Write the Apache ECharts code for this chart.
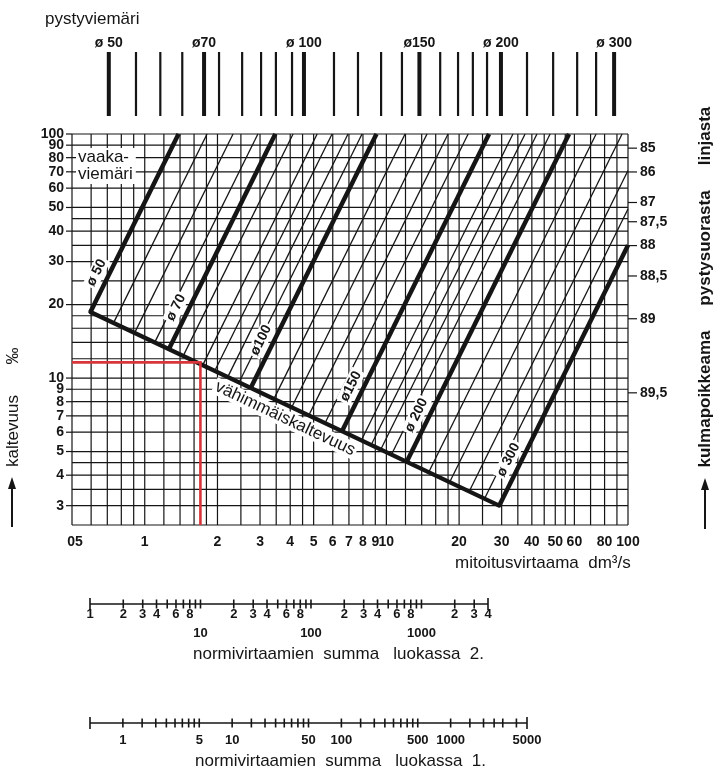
<!DOCTYPE html>
<html><head><meta charset="utf-8">
<script src="https://cdn.jsdelivr.net/npm/echarts@6/dist/echarts.min.js"></script>
<style>html,body{margin:0;padding:0;background:#fff}#c{width:715px;height:777px}</style>
</head><body><div id="c"></div>
<script>
// ---------------- data ----------------
const gridX = [0.5,0.6,0.7,0.8,0.9,1,1.2,1.4,1.6,1.8,2,2.5,3,3.5,4,4.5,5,6,7,8,9,10,12,14,16,18,20,25,30,35,40,45,50,55,60,70,80,90,100];
const gridY = [2.5,3,3.5,4,4.5,5,6,7,8,9,10,12,14,16,18,20,25,30,35,40,45,50,60,70,80,90,100];
const xLabelValues = [0.5,1,2,3,4,5,6,7,8,9,10,20,30,40,50,60,80,100];
const xLabelText = ['05','1','2','3','4','5','6','7','8','9','10','20','30','40','50','60','80','100'];
const yLabelValues = [3,4,5,6,7,8,9,10,20,30,40,50,60,70,80,90,100];
const angleValues = [87.5,69.9,52.4,43.7,34.9,26.2,17.5,8.7];
const angleText = ['85','86','87','87,5','88','88,5','89','89,5'];

const stackFlow = [0.71,0.92,1.16,1.43,1.76,2.03,2.53,3.03,3.49,4.07,4.56,6.07,7.63,9.51,11.6,13.7,16.7,19.8,22.8,26.1,29.8,38.2,49.0,61.6,73.8,87.6];
const stackDiameterIndex = [0,4,10,15,20,25];
const diameterText = ['ø 50','ø 70','ø100','ø150','ø 200','ø 300'];
const topDiameterText = ['ø 50','ø70','ø 100','ø150','ø 200','ø 300'];

const drainStartQ = [0.596,0.743,0.908,1.100,1.259,1.443,1.738,1.950,2.207,2.458,2.748,3.425,4.058,4.774,5.577,6.551,7.879,8.65,9.48,10.50,12.14,14.97,18.29,22.01,25.50,29.30];
const drainStartS = [18.65,16.83,15.32,14.0,13.15,12.33,11.30,10.71,10.11,9.61,9.12,8.22,7.59,7.03,6.54,6.06,5.56,5.32,5.10,4.86,4.54,4.11,3.75,3.43,3.21,3.00];
const drainEndQ = [1.38,1.811,2.32,2.94,3.47,4.11,5.17,5.96,6.94,7.93,9.1,11.95,14.73,18.0,21.8,26.6,33.4,37.5,42.0,47.6,57.0,73.8,94.5,100,100,100];
const drainEndS = [100,100,100,100,100,100,100,100,100,100,100,100,100,100,100,100,100,100,100,100,100,100,100,70.9,49.3,35.0];
const drainDiameterIndex = [0,4,10,15,20,25];
const drainLabelS = [25.7,18.5,13.6,8.8,6.7,4.4];

const minSlopeQ = [0.596,29.30];
const minSlopeS = [18.65,3.00];
const exampleQ = 1.7;
const exampleS = 11.6;

const class2Ticks = [1,2,3,4,5,6,7,8,9,10,20,30,40,50,60,70,80,90,100,200,300,400,500,600,700,800,900,1000,2000,3000,4000];
const class2LabelValues = [1,2,3,4,6,8,10,20,30,40,60,80,100,200,300,400,600,800,1000,2000,3000,4000];
const class2LabelText = ['1','2','3','4','6','8','10','2','3','4','6','8','100','2','3','4','6','8','1000','2','3','4'];
const class1Ticks = [0.5,1,1.5,2,2.5,3,3.5,4,4.5,5,10,15,20,25,30,35,40,45,50,100,150,200,250,300,350,400,450,500,1000,1500,2000,2500,3000,4000,5000];
const class1LabelValues = [1,5,10,50,100,500,1000,5000];
const class1LabelText = ['1','5','10','50','100','500','1000','5000'];

// ---------------- rendering ----------------
const INK = '#151515';
const FONT = '"Liberation Sans", Arial, sans-serif';
const X_MIN = gridX[0], X_MAX = gridX[gridX.length-1];
const Y_MIN = gridY[0], Y_MAX = gridY[gridY.length-1];

function seg(a, b, stroke, w){
  return {type:'line', shape:{x1:a[0],y1:a[1],x2:b[0],y2:b[1]}, style:{stroke:stroke, lineWidth:w, lineCap:'butt'}};
}
function txt(x, y, s, o){
  o = o || {};
  return {type:'text', x:x, y:y, rotation:o.rot||0, style:{
    text:s, fill:o.fill||INK, fontSize:o.size||14, fontWeight:o.weight||'bold', fontFamily:FONT,
    align:o.align||'center', verticalAlign:o.valign||'middle',
    backgroundColor:o.bg||null, padding:o.pad||0, lineHeight:o.lh||undefined }};
}
function g(i){ return {xAxisIndex:i, yAxisIndex:i, type:'custom', silent:true, animation:false}; }

const drainRows = drainStartQ.map((q,i)=>[q, drainStartS[i], drainEndQ[i], drainEndS[i], drainDiameterIndex.indexOf(i)]);

const series = [
  // vertical grid lines
  Object.assign(g(0), {z:1, data:gridX.map(v=>[v,Y_MIN]), renderItem:(p,api)=>seg(api.coord([api.value(0),Y_MIN]), api.coord([api.value(0),Y_MAX]), INK, 1.2)}),
  // horizontal grid lines
  Object.assign(g(0), {z:1, data:gridY.map(v=>[X_MIN,v]), renderItem:(p,api)=>seg(api.coord([X_MIN,api.value(1)]), api.coord([X_MAX,api.value(1)]), INK, 1.2)}),
  // thin drain lines
  Object.assign(g(0), {z:2, encode:{x:[0,2],y:[1,3]}, data:drainRows.filter(r=>r[4]<0), renderItem:(p,api)=>seg(api.coord([api.value(0),api.value(1)]), api.coord([api.value(2),api.value(3)]), INK, 1.3)}),
  // diameter labels along thick lines
  Object.assign(g(0), {z:3, encode:{x:[0,2],y:[1,3]}, data:drainRows.filter(r=>r[4]>=0).map(r=>[r[0],r[1],r[2],r[3],r[4]]), renderItem:(p,api)=>{
    const a = api.coord([api.value(0),api.value(1)]), b = api.coord([api.value(2),api.value(3)]);
    const j = api.value(4);
    const yy = api.coord([1, drainLabelS[j]])[1];
    const t = (yy - a[1])/(b[1]-a[1]);
    const px = a[0] + t*(b[0]-a[0]);
    const L = Math.hypot(b[0]-a[0], b[1]-a[1]);
    const dx=(b[0]-a[0])/L, dy=(b[1]-a[1])/L;
    const off = 12;
    const cx = px + dy*off, cy = yy - dx*off;
    return txt(cx, cy, diameterText[j], {rot:-Math.atan2(b[1]-a[1], b[0]-a[0]), bg:'#fff', pad:[1,2,0,2], size:14});
  }}),
  // minimum slope label
  Object.assign(g(0), {z:3, encode:{x:[0,2],y:[1,3]}, data:[[minSlopeQ[0],minSlopeS[0],minSlopeQ[1],minSlopeS[1]]], renderItem:(p,api)=>{
    const a = api.coord([api.value(0),api.value(1)]), b = api.coord([api.value(2),api.value(3)]);
    const L = Math.hypot(b[0]-a[0], b[1]-a[1]);
    const dx=(b[0]-a[0])/L, dy=(b[1]-a[1])/L;
    const t = 0.49, off = 13;
    const cx = a[0]+t*(b[0]-a[0]) - dy*off, cy = a[1]+t*(b[1]-a[1]) + dx*off;
    return txt(cx, cy, 'vähimmäiskaltevuus', {rot:-Math.atan2(b[1]-a[1], b[0]-a[0]), bg:'#fff', pad:[0,2,0,2], size:17, weight:'normal'});
  }}),
  // thick drain lines
  Object.assign(g(0), {z:4, encode:{x:[0,2],y:[1,3]}, data:drainRows.filter(r=>r[4]>=0), renderItem:(p,api)=>seg(api.coord([api.value(0),api.value(1)]), api.coord([api.value(2),api.value(3)]), INK, 4.5)}),
  // minimum slope line
  Object.assign(g(0), {z:4, encode:{x:[0,2],y:[1,3]}, data:[[minSlopeQ[0],minSlopeS[0],minSlopeQ[1],minSlopeS[1]]], renderItem:(p,api)=>{
    const s = seg(api.coord([api.value(0),api.value(1)]), api.coord([api.value(2),api.value(3)]), INK, 4.2);
    s.style.lineCap='round'; return s;}}),
  // red example
  Object.assign(g(0), {z:5, data:[[exampleQ, exampleS]], renderItem:(p,api)=>{
    const c = api.coord([api.value(0),api.value(1)]);
    return {type:'group', children:[
      seg(api.coord([X_MIN,api.value(1)]), c, '#d8343a', 2.6),
      seg([c[0], c[1]-1.3], api.coord([api.value(0),Y_MIN]), '#d8343a', 2.6)
    ]};
  }}),
  // left axis labels
  Object.assign(g(0), {z:6, data:yLabelValues.map(v=>[X_MIN,v]), renderItem:(p,api)=>{
    const c = api.coord([X_MIN, api.value(1)]);
    return {type:'group', children:[ seg([c[0]-6,c[1]],c,INK,1.2), txt(c[0]-8, c[1], String(yLabelValues[p.dataIndex]), {align:'right'}) ]};
  }}),
  // bottom axis labels
  Object.assign(g(0), {z:6, data:xLabelValues.map(v=>[v,Y_MIN]), renderItem:(p,api)=>{
    const c = api.coord([api.value(0), Y_MIN]);
    return txt(c[0]+(p.dataIndex===0?3:0), c[1]+10, xLabelText[p.dataIndex], {valign:'top'});
  }}),
  // right angle labels
  Object.assign(g(0), {z:6, data:angleValues.map(v=>[X_MAX,v]), renderItem:(p,api)=>{
    const c = api.coord([X_MAX, api.value(1)]);
    return {type:'group', children:[ seg(c,[c[0]+9,c[1]],INK,1.2), txt(c[0]+12, c[1], angleText[p.dataIndex], {align:'left'}) ]};
  }}),
  // top scale: vertical stacks
  Object.assign(g(1), {z:2, data:stackFlow.map((v,i)=>[v, i]), renderItem:(p,api)=>{
    const i = p.dataIndex, major = stackDiameterIndex.indexOf(i);
    const a = api.coord([api.value(0),0]), b = api.coord([api.value(0),1]);
    const ch = [seg(a,b,INK, major>=0?4:2.2)];
    if (major>=0) ch.push(txt(b[0], b[1]-9, topDiameterText[major], {size:14}));
    return {type:'group', children:ch};
  }}),
  // class 2 scale
  Object.assign(g(2), {z:2, data:[[class2Ticks[0],0]], renderItem:(p,api)=>seg(api.coord([class2Ticks[0],0]), api.coord([class2Ticks[class2Ticks.length-1],0]), INK, 1.6)}),
  Object.assign(g(2), {z:2, data:class2Ticks.map(v=>[v,0]), renderItem:(p,api)=>{
    const c = api.coord([api.value(0),0]);
    const h = (p.dataIndex===0||p.dataIndex===class2Ticks.length-1)?6:4.5;
    return seg([c[0],c[1]-h],[c[0],c[1]+h],INK,1.6);
  }}),
  Object.assign(g(2), {z:2, data:class2LabelValues.map(v=>[v,0]), renderItem:(p,api)=>{
    const c = api.coord([api.value(0),0]);
    const v = class2LabelValues[p.dataIndex];
    const lower = v>1 && Math.abs(Math.log10(v)-Math.round(Math.log10(v)))<1e-9;
    return txt(c[0], c[1]+(lower?29:10), class2LabelText[p.dataIndex], {size:13});
  }}),
  // class 1 scale
  Object.assign(g(3), {z:2, data:[[class1Ticks[0],0]], renderItem:(p,api)=>seg(api.coord([class1Ticks[0],0]), api.coord([class1Ticks[class1Ticks.length-1],0]), INK, 1.6)}),
  Object.assign(g(3), {z:2, data:class1Ticks.map(v=>[v,0]), renderItem:(p,api)=>{
    const c = api.coord([api.value(0),0]);
    const h = (p.dataIndex===0||p.dataIndex===class1Ticks.length-1)?6:4.5;
    return seg([c[0],c[1]-h],[c[0],c[1]+h],INK,1.6);
  }}),
  Object.assign(g(3), {z:2, data:class1LabelValues.map(v=>[v,0]), renderItem:(p,api)=>{
    const c = api.coord([api.value(0),0]);
    return txt(c[0], c[1]+17, class1LabelText[p.dataIndex], {size:13});
  }})
];

function plainText(x, y, s, o){
  o = o || {};
  return {type:'text', x:x, y:y, rotation:o.rot||0, z:10, style:{text:s, fill:INK, fontSize:o.size||17, fontWeight:o.weight||'normal', fontFamily:FONT,
    align:o.align||'left', verticalAlign:o.valign||'middle', backgroundColor:o.bg||null, padding:o.pad||0, lineHeight:o.lh}};
}
function arrowUp(x, yBottom, yTop){
  return [
    {type:'line', z:10, shape:{x1:x,y1:yBottom,x2:x,y2:yTop+10}, style:{stroke:INK, lineWidth:2}},
    {type:'polygon', z:10, shape:{points:[[x,yTop],[x-4,yTop+12],[x+4,yTop+12]]}, style:{fill:INK}}
  ];
}

const option = {
  animation:false,
  backgroundColor:'#ffffff',
  grid:[
    {left:72, top:134, width:556, height:391},
    {left:72, top:52, width:556, height:64},
    {left:90, top:594, width:398, height:20},
    {left:90, top:713, width:437, height:20}
  ],
  xAxis:[
    {gridIndex:0, type:'log', min:X_MIN, max:X_MAX, show:false},
    {gridIndex:1, type:'log', min:X_MIN, max:X_MAX, show:false},
    {gridIndex:2, type:'log', min:class2Ticks[0], max:class2Ticks[class2Ticks.length-1], show:false},
    {gridIndex:3, type:'log', min:class1Ticks[0], max:class1Ticks[class1Ticks.length-1], show:false}
  ],
  yAxis:[
    {gridIndex:0, type:'log', min:Y_MIN, max:Y_MAX, show:false},
    {gridIndex:1, type:'value', min:0, max:1, show:false},
    {gridIndex:2, type:'value', min:-1, max:1, show:false},
    {gridIndex:3, type:'value', min:-1, max:1, show:false}
  ],
  series:series,
  graphic:[].concat([
    plainText(45, 19, 'pystyviemäri', {size:17}),
    plainText(76, 166, 'vaaka-\nviemäri', {size:17, bg:'#fff', pad:[1,3,1,2], lh:17}),
    plainText(455, 563, 'mitoitusvirtaama  dm³/s', {size:17}),
    plainText(13, 356, '‰', {size:17, rot:Math.PI/2, align:'center'}),
    plainText(13, 431, 'kaltevuus', {size:17, rot:Math.PI/2, align:'center'}),
    plainText(705, 136, 'linjasta', {size:17, rot:Math.PI/2, align:'center', weight:'bold'}),
    plainText(705, 248, 'pystysuorasta', {size:17, rot:Math.PI/2, align:'center', weight:'bold'}),
    plainText(705, 399, 'kulmapoikkeama', {size:17, rot:Math.PI/2, align:'center', weight:'bold'}),
    plainText(193, 654, 'normivirtaamien  summa   luokassa  2.', {size:17}),
    plainText(195, 761, 'normivirtaamien  summa   luokassa  1.', {size:17})
  ], arrowUp(12, 527, 477), arrowUp(705, 529, 478))
};

const chart = echarts.init(document.getElementById('c'), null, {renderer:'canvas', width:715, height:777});
chart.setOption(option);
</script>
</body></html>
